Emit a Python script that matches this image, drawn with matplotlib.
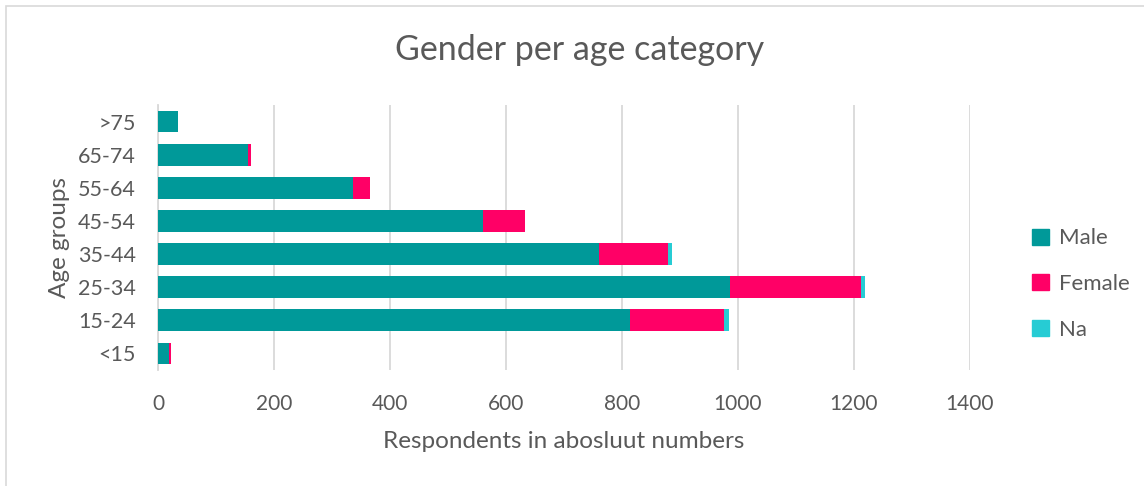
import matplotlib
matplotlib.use('Agg')
import matplotlib.pyplot as plt
from matplotlib.patches import Rectangle, Patch
import numpy as np

plt.rcParams['font.family'] = ['Lato', 'DejaVu Sans']

# Leeftijdsgroepen (van onder naar boven) en aantallen per geslacht
age_groups = ['<15', '15-24', '25-34', '35-44', '45-54', '55-64', '65-74', '>75']
male = [19, 813, 987, 761, 560, 337, 156, 34]
female = [3, 163, 225, 119, 73, 28, 4, 1]
na = [0, 8, 7, 6, 0, 0, 0, 0]

series_names = ['Male', 'Female', 'Na']
colors = ['#009999', '#FF0066', '#26CCD4']
text_color = '#595959'
grid_color = '#D9D9D9'

W, H = 1144, 486
fig = plt.figure(figsize=(W / 100, H / 100), dpi=100)

# rand om de grafiek
fig.patches.append(Rectangle((6 / W, -0.1), 1.2, 1 - 6 / H + 0.1, transform=fig.transFigure,
                             fill=False, edgecolor='#D9D9D9', linewidth=1.2))

ax = fig.add_axes([158 / W, 116 / H, 812 / W, 265 / H])

y = np.arange(len(age_groups))
left = np.zeros(len(age_groups))
for vals, name, c in zip([male, female, na], series_names, colors):
    ax.barh(y, vals, left=left, height=0.66, color=c, label=name, zorder=3)
    left += np.array(vals)

ax.set_xlim(0, 1400)
ax.set_ylim(-0.5, len(age_groups) - 0.5)
ax.set_xticks(np.arange(0, 1401, 200))
ax.set_yticks(y)
ax.set_yticklabels(age_groups)
ax.grid(axis='x', color=grid_color, linewidth=1.3, zorder=0)
for s in ['top', 'right', 'bottom']:
    ax.spines[s].set_visible(False)
ax.spines['left'].set_color(grid_color)
ax.spines['left'].set_linewidth(1.3)
ax.tick_params(length=0, labelsize=15.5, colors=text_color)
ax.tick_params(axis='y', pad=16)
ax.tick_params(axis='x', pad=17, labelsize=15)

fig.text(580 / W, 1 - 50 / H, 'Gender per age category', ha='center', va='center',
         fontsize=24.5, color=text_color)
fig.text(564 / W, 1 - 441 / H, 'Respondents in abosluut numbers', ha='center', va='center',
         fontsize=17.5, color=text_color)
fig.text(60 / W, 1 - 238 / H, 'Age groups', ha='center', va='center', rotation=90,
         fontsize=17.5, color=text_color)

handles = [Patch(color=c) for c in colors]
fig.legend(handles, series_names, loc='center left', bbox_to_anchor=(1021 / W, 1 - 284 / H),
           frameon=False, fontsize=16, labelcolor=text_color, handlelength=0.75, handleheight=0.75,
           handletextpad=0.45, labelspacing=1.15, borderpad=0)

fig.savefig('out.png', dpi=100)
